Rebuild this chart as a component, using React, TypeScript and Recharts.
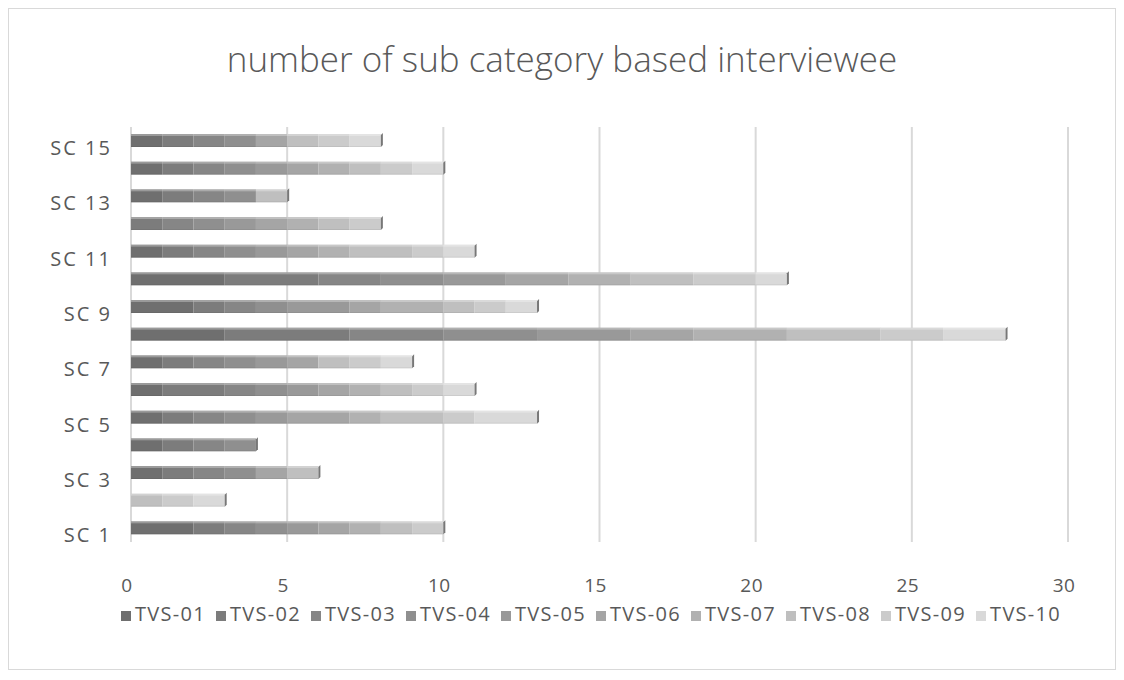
import { BarChart, Bar, XAxis, YAxis, CartesianGrid, Legend } from 'recharts';

// categories, bottom to top
const categories = ['SC 1', 'SC 2', 'SC 3', 'SC 4', 'SC 5', 'SC 6', 'SC 7', 'SC 8', 'SC 9', 'SC 10', 'SC 11', 'SC 12', 'SC 13', 'SC 14', 'SC 15'];

// one list per interviewee, same order as categories
const tvs01 = [2, 0, 1, 1, 1, 1, 1, 3, 2, 3, 1, 0, 1, 1, 1];
const tvs02 = [1, 0, 1, 1, 1, 2, 1, 4, 1, 3, 1, 1, 1, 1, 1];
const tvs03 = [1, 0, 1, 1, 1, 1, 1, 3, 1, 2, 1, 1, 1, 1, 1];
const tvs04 = [1, 0, 1, 1, 1, 1, 1, 3, 1, 2, 1, 1, 1, 1, 1];
const tvs05 = [1, 0, 0, 0, 1, 1, 1, 3, 2, 2, 1, 1, 0, 1, 0];
const tvs06 = [1, 0, 1, 0, 2, 1, 1, 2, 1, 2, 1, 1, 0, 1, 1];
const tvs07 = [1, 0, 0, 0, 1, 1, 0, 3, 2, 2, 1, 1, 0, 1, 0];
const tvs08 = [1, 1, 1, 0, 2, 1, 1, 3, 1, 2, 2, 1, 1, 1, 1];
const tvs09 = [1, 1, 0, 0, 1, 1, 1, 2, 1, 2, 1, 1, 0, 1, 1];
const tvs10 = [0, 1, 0, 0, 2, 1, 1, 2, 1, 1, 1, 0, 0, 1, 1];

const seriesNames = ['TVS-01', 'TVS-02', 'TVS-03', 'TVS-04', 'TVS-05', 'TVS-06', 'TVS-07', 'TVS-08', 'TVS-09', 'TVS-10'];
const seriesValues = [tvs01, tvs02, tvs03, tvs04, tvs05, tvs06, tvs07, tvs08, tvs09, tvs10];
const xTicks = [0, 5, 10, 15, 20, 25, 30];

// grey shades, dark to light
const COLORS = ['#6f6f6f', '#7c7c7c', '#868686', '#8f8f8f', '#999999', '#a5a5a5', '#b1b1b1', '#bfbfbf', '#cbcbcb', '#d9d9d9'];

const rows = categories.map((cat, i) => {
  const row: Record<string, string | number> = { name: cat };
  seriesNames.forEach((s, j) => {
    row['s' + j] = seriesValues[j][i];
  });
  return row;
});

const FONT = '"Open Sans", "Liberation Sans", sans-serif';
const TEXT = '#595959';

// stacked piece with a pale top edge; the last piece of a row gets a dark end cap
const Segment = (props: any) => {
  const { x, y, width, height, fill, payload, si } = props;
  if (!width || width <= 0) return null;
  let last = true;
  for (let k = si + 1; k < seriesNames.length; k++) {
    if (payload && payload['s' + k] > 0) last = false;
  }
  return (
    <g>
      <rect x={x} y={y} width={width} height={height} fill={fill} />
      <rect x={x} y={y} width={width} height={2} fill="#ffffff" fillOpacity={0.3} />
      <rect x={x} y={y + height - 1} width={width} height={1} fill="#000000" fillOpacity={0.06} />
      {last && (
        <polygon
          points={`${x + width},${y + 1} ${x + width + 2},${y - 1} ${x + width + 2},${y + height - 2} ${x + width},${y + height}`}
          fill="#777777"
        />
      )}
    </g>
  );
};

export default function App() {
  return (
    <div
      style={{
        position: 'relative',
        width: 1106,
        height: 660,
        border: '1px solid #d9d9d9',
        background: '#fff',
        fontFamily: FONT,
      }}
    >
      <div
        style={{
          position: 'absolute',
          top: 26,
          left: 0,
          width: '100%',
          textAlign: 'center',
          fontSize: 35,
          color: TEXT,
          fontWeight: 300,
        }}
      >
        number of sub category based interviewee
      </div>
      <BarChart
        width={1106}
        height={660}
        data={rows}
        layout="vertical"
        margin={{ top: 118, right: 47, left: 0, bottom: 44 }}
        barSize={13}
      >
        <CartesianGrid horizontal={false} stroke="#d9d9d9" strokeWidth={2} />
        <XAxis
          type="number"
          domain={[0, 30]}
          ticks={xTicks}
          axisLine={false}
          tickLine={false}
          tick={{ fill: TEXT, fontSize: 19, fontFamily: FONT, letterSpacing: 0.5, dx: -4, dy: 3 }}
          tickMargin={28}
          height={56}
        />
        <YAxis
          type="category"
          dataKey="name"
          reversed
          interval={1}
          axisLine={false}
          tickLine={false}
          tick={{ fill: TEXT, fontSize: 20, fontFamily: FONT, letterSpacing: 2, dy: 7 }}
          tickMargin={13}
          width={122}
        />
        <Legend
          verticalAlign="bottom"
          iconType="square"
          iconSize={10}
          wrapperStyle={{
            fontSize: 20,
            fontFamily: FONT,
            color: TEXT,
            letterSpacing: 1.3,
            bottom: 42,
            left: 104,
            width: 966,
          }}
          formatter={(value: string) => <span style={{ color: TEXT }}>{value}</span>}
        />
        {seriesNames.map((s, i) => (
          <Bar
            key={s}
            name={s}
            dataKey={'s' + i}
            stackId="a"
            fill={COLORS[i]}
            shape={(p: any) => <Segment {...p} si={i} />}
            isAnimationActive={false}
          />
        ))}
      </BarChart>
    </div>
  );
}
